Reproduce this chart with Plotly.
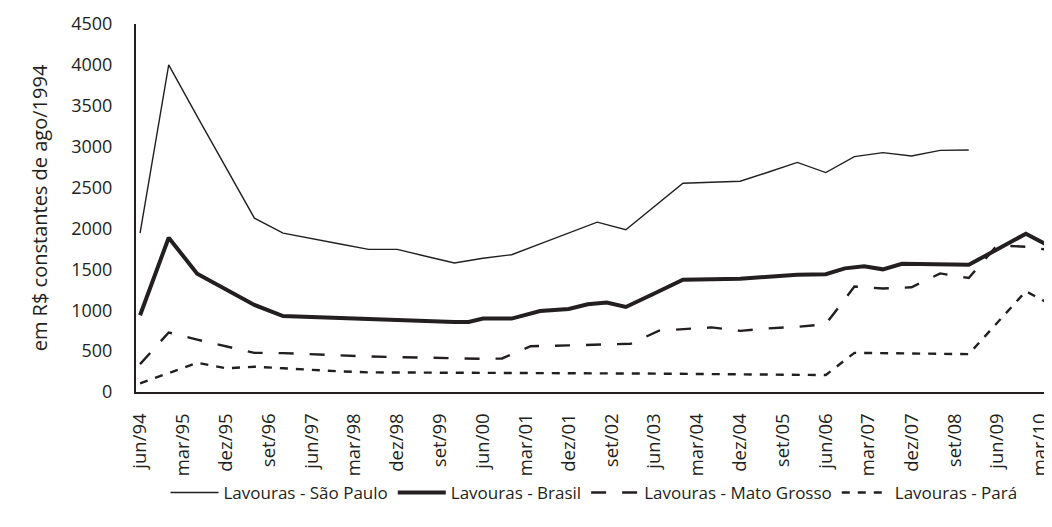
import plotly.graph_objects as go

# ---- data ----
sp_dates = ["1994-06-01", "1994-12-01", "1995-06-01", "1995-12-01", "1996-06-01", "1996-12-01",
            "1997-06-01", "1997-12-01", "1998-06-01", "1998-12-01", "1999-06-01", "1999-12-01",
            "2000-06-01", "2000-12-01", "2001-06-01", "2001-12-01", "2002-06-01", "2002-12-01",
            "2003-06-01", "2003-12-01", "2004-06-01", "2004-12-01", "2005-06-01", "2005-12-01",
            "2006-06-01", "2006-12-01", "2007-06-01", "2007-12-01", "2008-06-01", "2008-12-01"]
sp_values = [1943, 4000, 3370, 2750, 2126, 1943,
             1880, 1810, 1744, 1744, 1660, 1577,
             1635, 1679, 1812, 1945, 2077, 1984,
             2268, 2553, 2565, 2577, 2690, 2808,
             2683, 2878, 2927, 2886, 2955, 2960]

br_dates = ["1994-06-01", "1994-12-01", "1995-06-01", "1995-12-01", "1996-06-01", "1996-12-01",
            "1997-06-01", "1997-12-01", "1998-06-01", "1998-12-01", "1999-06-01", "1999-12-01",
            "2000-03-01", "2000-06-01", "2000-12-01", "2001-06-01", "2001-12-01", "2002-04-01",
            "2002-08-01", "2002-12-01", "2003-06-01", "2003-12-01", "2004-06-01", "2004-12-01",
            "2005-06-01", "2005-12-01", "2006-06-01", "2006-10-01", "2007-02-01", "2007-06-01",
            "2007-10-01", "2008-06-01", "2008-12-01", "2009-12-01", "2010-06-01"]
br_values = [939, 1887, 1447, 1250, 1065, 929,
             915, 905, 898, 885, 870, 857,
             857, 898, 898, 991, 1016, 1073,
             1094, 1040, 1205, 1374, 1380, 1386,
             1410, 1435, 1440, 1512, 1538, 1500,
             1567, 1560, 1555, 1935, 1755]

mt_dates = ["1994-06-01", "1994-12-01", "1995-06-01", "1995-12-01", "1996-06-01", "1996-12-01",
            "1997-06-01", "1997-12-01", "1998-06-01", "1998-12-01", "1999-06-01", "1999-12-01",
            "2000-06-01", "2000-10-01", "2001-04-01", "2001-12-01", "2002-08-01", "2003-01-01",
            "2003-07-01", "2003-12-01", "2004-06-01", "2004-12-01", "2005-06-01", "2005-12-01",
            "2006-06-01", "2006-12-01", "2007-06-01", "2007-12-01", "2008-06-01", "2008-12-01",
            "2009-06-01", "2009-12-01", "2010-06-01"]
mt_values = [341, 728, 640, 555, 479, 475,
             460, 445, 435, 427, 420, 412,
             406, 410, 560, 570, 582, 590,
             750, 770, 790, 748, 778, 797,
             830, 1290, 1265, 1280, 1450, 1395,
             1795, 1775, 1730]

pa_dates = ["1994-06-01", "1994-12-01", "1995-06-01", "1995-12-01", "1996-06-01", "1996-12-01",
            "1997-06-01", "1997-12-01", "1998-06-01", "1999-06-01", "2000-06-01", "2001-06-01",
            "2002-06-01", "2003-06-01", "2004-06-01", "2005-06-01", "2005-12-01", "2006-06-01",
            "2006-12-01", "2007-06-01", "2007-12-01", "2008-06-01", "2008-12-01", "2009-12-01",
            "2010-06-01"]
pa_values = [106, 232, 357, 290, 309, 290,
             270, 252, 240, 235, 232, 230,
             228, 225, 222, 218, 216, 207,
             479, 474, 470, 467, 463, 1232,
             1045]

tick_dates = ["1994-06-01", "1995-03-01", "1995-12-01", "1996-09-01", "1997-06-01", "1998-03-01",
              "1998-12-01", "1999-09-01", "2000-06-01", "2001-03-01", "2001-12-01", "2002-09-01",
              "2003-06-01", "2004-03-01", "2004-12-01", "2005-09-01", "2006-06-01", "2007-03-01",
              "2007-12-01", "2008-09-01", "2009-06-01", "2010-03-01"]
tick_labels = ["jun/94", "mar/95", "dez/95", "set/96", "jun/97", "mar/98",
               "dez/98", "set/99", "jun/00", "mar/01", "dez/01", "set/02",
               "jun/03", "mar/04", "dez/04", "set/05", "jun/06", "mar/07",
               "dez/07", "set/08", "jun/09", "mar/10"]
y_ticks = [0, 500, 1000, 1500, 2000, 2500, 3000, 3500, 4000, 4500]

INK = "#231f20"
FONT = "Open Sans"

fig = go.Figure()
fig.add_trace(go.Scatter(x=sp_dates, y=sp_values, mode="lines", name="Lavouras - São Paulo",
                         line=dict(color=INK, width=1.4)))
fig.add_trace(go.Scatter(x=br_dates, y=br_values, mode="lines", name="Lavouras - Brasil",
                         line=dict(color=INK, width=4)))
fig.add_trace(go.Scatter(x=mt_dates, y=mt_values, mode="lines", name="Lavouras - Mato Grosso",
                         line=dict(color=INK, width=2.4, dash="15px,16px")))
fig.add_trace(go.Scatter(x=pa_dates, y=pa_values, mode="lines", name="Lavouras - Pará",
                         line=dict(color=INK, width=2.4, dash="8px,8px")))

# the page body has an 8px margin, so the figure is sized/offset to compensate
fig.update_layout(
    width=1044, height=511,
    margin=dict(l=128, r=0, t=16, b=127, autoexpand=False),
    paper_bgcolor="white", plot_bgcolor="white",
    font=dict(family=FONT, color=INK, size=18),
    showlegend=True,
    legend=dict(orientation="h", x=0.5, xanchor="center", y=-0.2745, yanchor="middle",
                font=dict(family=FONT, size=17, color=INK), itemwidth=48,
                bgcolor="rgba(0,0,0,0)"),
)
fig.update_xaxes(
    type="date", range=["1994-05-06", "2010-05-17"], automargin=False,
    tickmode="array", tickvals=tick_dates, ticktext=tick_labels, tickangle=-90,
    showgrid=False, zeroline=False, showline=True, linecolor=INK, linewidth=2,
    ticks="", ticklabelstandoff=12, tickfont=dict(family=FONT, size=18.5, color=INK),
)
fig.update_yaxes(
    range=[0, 4500], tickmode="array", tickvals=y_ticks, automargin=False,
    showgrid=False, zeroline=False, showline=True, linecolor=INK, linewidth=2,
    ticks="", ticklabelstandoff=18, tickfont=dict(family=FONT, size=18, color=INK),
    title=dict(text="em R$ constantes de ago/1994", font=dict(family=FONT, size=20, color=INK),
               standoff=18),
)

fig.write_html("out.html")
